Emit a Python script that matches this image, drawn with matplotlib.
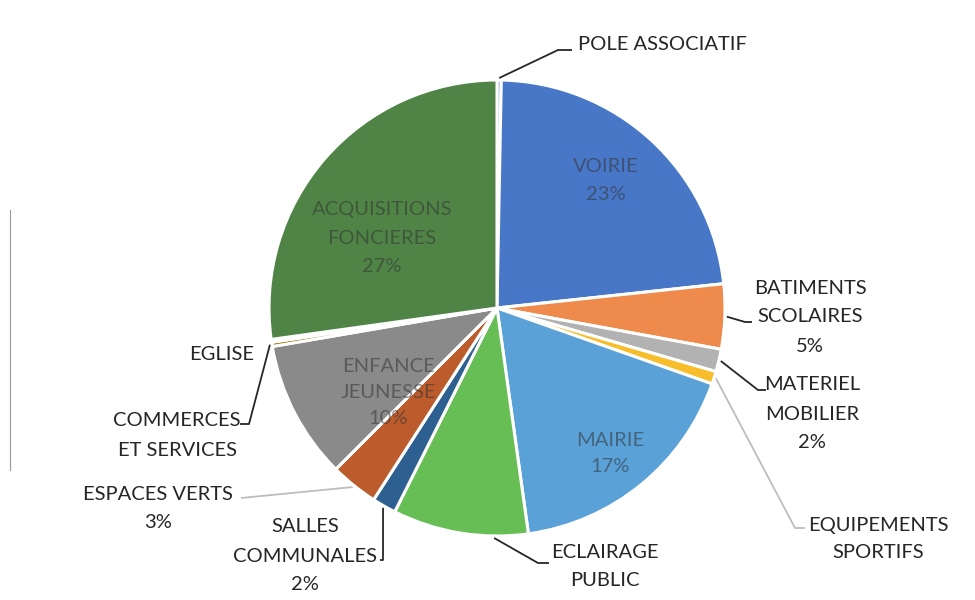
import matplotlib
matplotlib.use("Agg")
import matplotlib.pyplot as plt
import numpy as np

plt.rcParams['font.family'] = ['Lato', 'DejaVu Sans']

# ---- data (clockwise from 12 o'clock) ----
categories = ["POLE ASSOCIATIF", "VOIRIE", "BATIMENTS SCOLAIRES", "MATERIEL MOBILIER",
              "EQUIPEMENTS SPORTIFS", "MAIRIE", "ECLAIRAGE PUBLIC", "SALLES COMMUNALES",
              "ESPACES VERTS", "ENFANCE JEUNESSE", "COMMERCES ET SERVICES", "EGLISE",
              "ACQUISITIONS FONCIERES"]
values = [0.3, 23.0, 4.6, 1.6, 0.9, 17.4, 9.6, 1.7, 3.4, 9.8, 0.3, 0.2, 27.2]
colors = ["#6E93D2", "#4877C7", "#EE8A4C", "#B2B2B2", "#F7BD2A", "#5AA1D8", "#66BE55",
          "#2D6090", "#BC5C2D", "#8A8A8A", "#9E7A10", "#2F6699", "#4F8446"]
pct_labels = ["", "23%", "5%", "2%", "", "17%", "", "2%", "3%", "10%", "", "", "27%"]

fig = plt.figure(figsize=(9.75, 6), dpi=100)
ax = fig.add_axes([0, 0, 1, 1])
H = 600
cx, cy, R = 497, H - 308, 228
wedges, _ = ax.pie(values, colors=colors, startangle=90, counterclock=False,
                   center=(cx, cy), radius=R,
                   wedgeprops=dict(edgecolor="white", linewidth=2.2), frame=True)
ax.set_xlim(0, 975)
ax.set_ylim(0, H)
ax.set_aspect("equal")
ax.axis("off")

def edge_point(i, frac=0.5, r=R):
    w = wedges[i]
    t = np.deg2rad(w.theta1 + frac * (w.theta2 - w.theta1))
    return cx + r * np.cos(t), cy + r * np.sin(t)

def Y(y):
    return H - y

FS = 14.5

# inside labels
in_color = "#333333"
inside = {1: (606, 167, 28), 12: (382, 210, 28), 9: (388, 367, 26), 5: (610, 440, 27)}
for i, (x, y, dy) in inside.items():
    words = categories[i].split(" ")
    lines = words + [pct_labels[i]]
    for k, s in enumerate(lines):
        ax.text(x, Y(y + k * dy), s, ha="center", va="center", fontsize=FS,
                color=in_color, alpha=0.55)

# outside labels: (index, center x, first line y, line spacing, lines, elbow points, line color)
txt_color = "#262626"
outside = [
    (0, 662, 45, 29, ["POLE ASSOCIATIF"], [(558, 50), (572, 50)], "#262626", 0.5),
    (2, 810, 288, 29, ["BATIMENTS", "SCOLAIRES", "5%"], [(745, 322), (752, 322)], "#262626", 0.5),
    (3, 812, 385, 29, ["MATERIEL", "MOBILIER", "2%"], [(758, 390), (766, 390)], "#262626", 0.5),
    (4, 878, 525, 28, ["EQUIPEMENTS", "SPORTIFS"], [(795, 528), (805, 528)], "#BDBDBD", 0.5),
    (6, 605, 553, 28, ["ECLAIRAGE", "PUBLIC"], [(538, 563), (549, 563)], "#262626", 0.75),
    (7, 305, 527, 29, ["SALLES", "COMMUNALES", "2%"], [(383, 560), (380, 560)], "#262626", 0.5),
    (8, 158, 494, 29, ["ESPACES VERTS", "3%"], [(241, 498)], "#BDBDBD", 0.5),
    (10, 177, 420, 30, ["COMMERCES", "ET SERVICES"], [(249, 424), (240, 424)], "#262626", 0.5),
    (11, 222, 355, 29, ["EGLISE"], [], "#262626", 0.5),
]
for i, x, y, dy, lines, elbow, lc, frac in outside:
    for k, s in enumerate(lines):
        ax.text(x, Y(y + k * dy), s, ha="center", va="center", fontsize=FS,
                color=txt_color)
    if elbow:
        p0 = edge_point(i, frac, R + 2)
        xs = [p0[0]] + [e[0] for e in elbow]
        ys = [p0[1]] + [Y(e[1]) for e in elbow]
        ax.plot(xs, ys, color=lc, lw=1.3, solid_capstyle="butt")

# faint scan artefact on the left border
ax.plot([10, 10], [Y(210), Y(470)], color="#9a9a9a", lw=0.8)

fig.savefig("out.png", dpi=100, facecolor="white")
